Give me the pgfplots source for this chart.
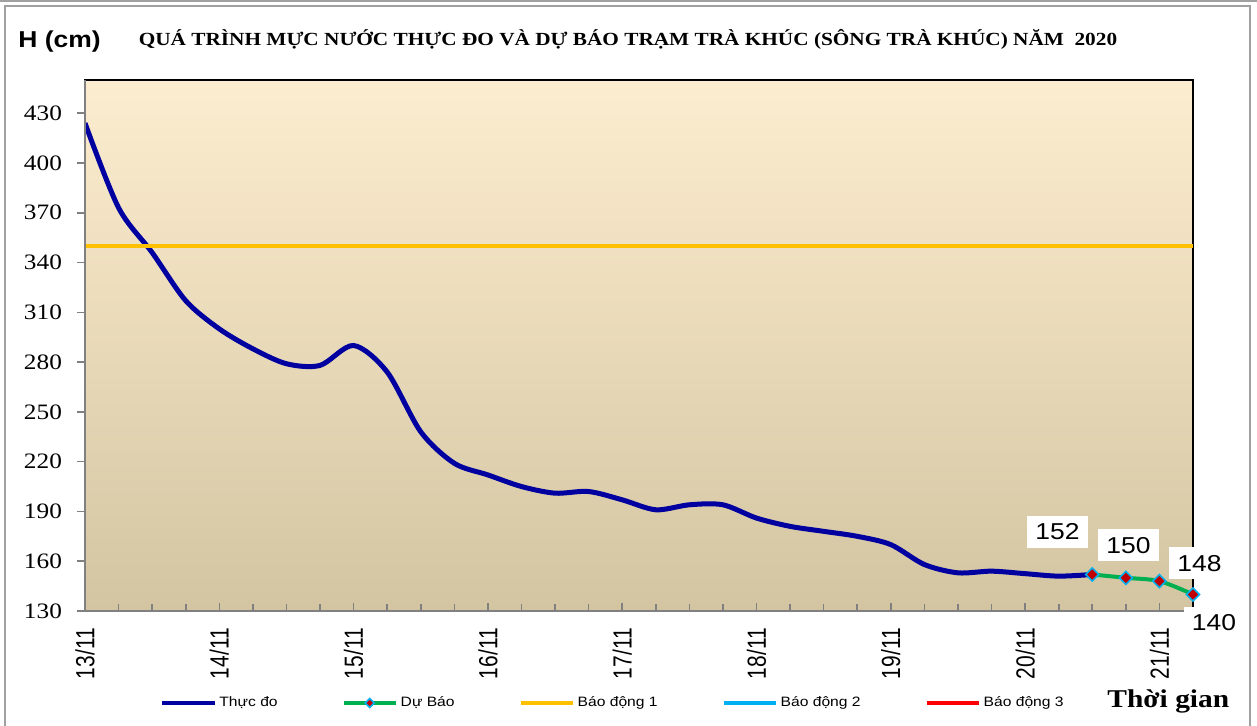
\documentclass[border=0pt]{standalone}
\usepackage{fontspec}
\setmainfont[FakeStretch=1.15]{Liberation Sans}
\newfontfamily\serifw[FakeStretch=1.15]{Liberation Serif}
\newfontfamily\sansplain{Liberation Sans}
\usepackage{graphicx}
\usepackage{pgfplots}
\pgfplotsset{compat=1.18}

\definecolor{obsblue}{HTML}{0000A0}
\definecolor{fcgreen}{HTML}{00B050}
\definecolor{warn1}{HTML}{FFC000}
\definecolor{warn2}{HTML}{00B0F0}
\definecolor{warn3}{HTML}{FF0000}
\definecolor{mkred}{HTML}{C00000}
\definecolor{bgtop}{HTML}{FDEDD0}
\definecolor{bgbot}{HTML}{D3C5A1}
\definecolor{frame}{HTML}{A0A0A0}

\newcommand\xt[1]{\scalebox{1}[1.25]{#1}}

\pgfplotsset{
  legend image code/.code={%
    \draw[mark repeat=2,mark phase=2,#1,mark size=1.6pt,line width=2pt]
      plot coordinates {(0pt,0pt) (13pt,0pt) (26pt,0pt)};},
}

\begin{document}
\begin{tikzpicture}
% page = 1257 x 726 px at 2 px per pt, origin at the plot's lower left corner
\path[use as bounding box] (-42.5pt,-57.5pt) rectangle (586pt,305.5pt);

% outer chart frame
\draw[frame, line width=1pt] (-42.5pt,305pt) -- (586pt,305pt);
\draw[frame, line width=1pt] (-40pt,-60pt) -- (-40pt,302.5pt) -- (582.5pt,302.5pt) -- (582.5pt,-60pt);

\begin{axis}[
    at={(0pt,0pt)}, anchor=south west,
    scale only axis,
    width=554pt, height=265.5pt,
    xmin=0, xmax=8.25,
    ymin=130, ymax=450,
    xtick={0,1,2,3,4,5,6,7,8},
    xticklabels={\xt{13/11},\xt{14/11},\xt{15/11},\xt{16/11},\xt{17/11},\xt{18/11},\xt{19/11},\xt{20/11},\xt{21/11}},
    minor x tick num=3,
    ytick={130,160,190,220,250,280,310,340,370,400,430},
    xtick pos=left, ytick pos=left,
    xtick align=inside, ytick align=outside,
    major tick length=4pt, minor tick length=3.5pt,
    every tick/.style={draw=gray, line width=0.8pt},
    axis line style={black, line width=0.7pt},
    axis background/.style={top color=bgtop, bottom color=bgbot},
    /pgf/number format/assume math mode=true,
    yticklabel style={font=\serifw\fontsize{11}{12}\selectfont},
    xticklabel style={rotate=90, anchor=east, font=\sansplain\fontsize{10.5}{12}\selectfont},
    xticklabel shift=5pt,
    yticklabel shift=4pt,
    legend columns=5,
    legend style={
        at={(axis description cs:0.0623,-0.1733)}, anchor=west,
        draw=none, fill=none,
        font=\fontsize{6.8}{8}\selectfont,
        /tikz/every even column/.append style={column sep=30.5pt},
        nodes={inner sep=1.5pt},
    },
]
% measured water level, every 6 hours
\addplot[obsblue, line width=2.5pt, smooth] coordinates {
    (0,424) (0.25,373) (0.5,346) (0.75,317) (1,300) (1.25,288) (1.5,279) (1.75,278)
    (2,290) (2.25,274) (2.5,238) (2.75,219) (3,212) (3.25,205) (3.5,201) (3.75,202)
    (4,197) (4.25,191) (4.5,194) (4.75,194) (5,186) (5.25,181) (5.5,178) (5.75,175)
    (6,170) (6.25,158) (6.5,153) (6.75,154) (7,152.5) (7.25,151) (7.5,152)
};
\addlegendentry{Thực đo}

% forecast
\addplot[fcgreen, line width=2pt, smooth, mark=square*, mark size=2.3pt,
    mark options={solid, rotate=45, fill=mkred, draw=warn2, line width=0.8pt}] coordinates {
    (7.5,152) (7.75,150) (8,148) (8.25,140)
};
\addlegendentry{Dự Báo}

% alarm level 1
\addplot[warn1, line width=2pt] coordinates {(0,350) (8.25,350)};
\addlegendentry{Báo động 1}

\addlegendimage{warn2, line width=2pt}
\addlegendentry{Báo động 2}
\addlegendimage{warn3, line width=2pt}
\addlegendentry{Báo động 3}
\end{axis}

% grey left and bottom axis lines
\draw[gray, line width=1.3pt] (0pt,265.5pt) -- (0pt,0pt) -- (554pt,0pt);

% value labels
\tikzset{vlab/.style={fill=white, minimum width=30.5pt, minimum height=16pt, inner sep=0pt,
    font=\fontsize{11.5}{12}\selectfont}}
\node[vlab] at (486.25pt,39.5pt) {152};
\node[vlab] at (521.75pt,32.75pt) {150};
\node[vlab] at (557.25pt,23.75pt) {148};
\node[vlab] at (564.5pt,-6pt) {140};

% titles
\node[font=\serifw\bfseries\fontsize{9.25}{11}\selectfont] at (271.5pt,286pt)
    {QUÁ TRÌNH MỰC NƯỚC THỰC ĐO VÀ DỰ BÁO TRẠM TRÀ KHÚC (SÔNG TRÀ KHÚC) NĂM\ \ 2020};
\node[anchor=base west, inner sep=0pt, font=\bfseries\fontsize{11.5}{13}\selectfont] at (-33.5pt,281.5pt) {H (cm)};
\node[anchor=base west, inner sep=0pt, font=\serifw\bfseries\fontsize{12.8}{14}\selectfont] at (511pt,-48.5pt) {Thời gian};
\end{tikzpicture}
\end{document}
